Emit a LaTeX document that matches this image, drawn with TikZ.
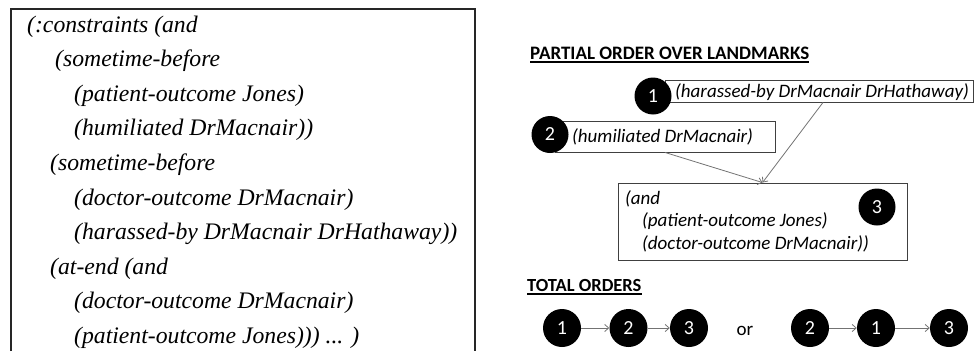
\documentclass[tikz,border=0pt]{standalone}
\usepackage{fontspec}
\setmainfont{Liberation Serif}
\newfontfamily\calib{Carlito}
\usetikzlibrary{arrows.meta}
\begin{document}
\begin{tikzpicture}[x=1pt,y=-1pt,
  code/.style={anchor=base west, inner sep=0pt, font=\fontsize{23.7}{28}\selectfont\itshape},
  lbl/.style={anchor=base west, inner sep=0pt, font=\calib\fontsize{19}{21}\selectfont\itshape},
  hdr/.style={anchor=base west, inner sep=0pt, font=\calib\fontsize{19}{21}\selectfont\bfseries},
  uline/.style={line width=1.3pt, black},
  box/.style={draw=black!75, line width=0.9pt, inner sep=0pt, fill=white},
  num/.style={circle, fill=black, inner sep=0pt, minimum size=37pt, text=white, font=\calib\fontsize{20}{22}\selectfont},
  arr/.style={draw=black!55, line width=0.8pt, -{Straight Barb[length=4pt,width=7pt]}}
]
\useasboundingbox (0,0) rectangle (974,351);
% left code box
\draw[line width=1.2pt, black!85] (11,351) -- (11,9) -- (475,9) -- (475,351);
\node[code] (l1) at (27,32) {(:constraints (and};
\node[code] (l2) at (55,66.6) {(sometime-before};
\node[code] (l3) at (74,101.2) {(patient-outcome Jones)};
\node[code] (l4) at (74,135.8) {(humiliated DrMacnair))};
\node[code] (l5) at (50,170.4) {(sometime-before};
\node[code] (l6) at (74,205) {(doctor-outcome DrMacnair)};
\node[code] (l7) at (74,239.6) {(harassed-by DrMacnair DrHathaway))};
\node[code] (l8) at (50,274.2) {(at-end (and};
\node[code] (l9) at (74,308.8) {(doctor-outcome DrMacnair)};
\node[code] (l10) at (74,343.4) {(patient-outcome Jones))) ... )};
% partial order
\node[hdr] (h1) at (530,59) {PARTIAL ORDER OVER LANDMARKS};
\draw[uline] ([yshift=-3pt]h1.base west) -- ([yshift=-3pt]h1.base east);
\node[box, minimum width=308pt, minimum height=22pt] (b1) at (819,91) {};
\node[box, minimum width=220pt, minimum height=31pt] (b2) at (665,136.5) {};
\node[box, minimum width=289pt, minimum height=77pt] (b3) at (762.5,221.5) {};
\node[lbl] (t1) at (675,97) {(harassed-by DrMacnair DrHathaway)};
\node[lbl] (t2) at (572,142) {(humiliated DrMacnair)};
\node[lbl] (t3a) at (625,204) {(and};
\node[lbl] (t3b) at (642,226.5) {(patient-outcome Jones)};
\node[lbl] (t3c) at (642,249) {(doctor-outcome DrMacnair))};
\draw[arr] (b2.south) -- (b3.north);
\draw[arr] ([xshift=4pt]b1.south) -- (b3.north);
\node[num] (n1) at (653,96) {1};
\node[num] (n2) at (550,134.5) {2};
\node[num] (n3) at (877,207) {3};
% total orders
\node[hdr, font=\calib\fontsize{18.5}{21}\selectfont\bfseries] (h2) at (527,291) {TOTAL ORDERS};
\draw[uline] ([yshift=-3pt]h2.base west) -- ([yshift=-3pt]h2.base east);
\node[num, minimum size=38pt] (a1) at (562,328) {1};
\node[num, minimum size=38pt] (a2) at (628.5,328) {2};
\node[num, minimum size=38pt] (a3) at (689,328) {3};
\node[inner sep=0pt, font=\calib\fontsize{19}{21}\selectfont] (or) at (745,331) {or};
\node[num, minimum size=38pt] (c2) at (810,328) {2};
\node[num, minimum size=38pt] (c1) at (876,328) {1};
\node[num, minimum size=38pt] (c3) at (949,328) {3};
\draw[arr] (a1) -- (a2);
\draw[arr] (a2) -- (a3);
\draw[arr] (c2) -- (c1);
\draw[arr] (c1) -- (c3);
\end{tikzpicture}
\end{document}
